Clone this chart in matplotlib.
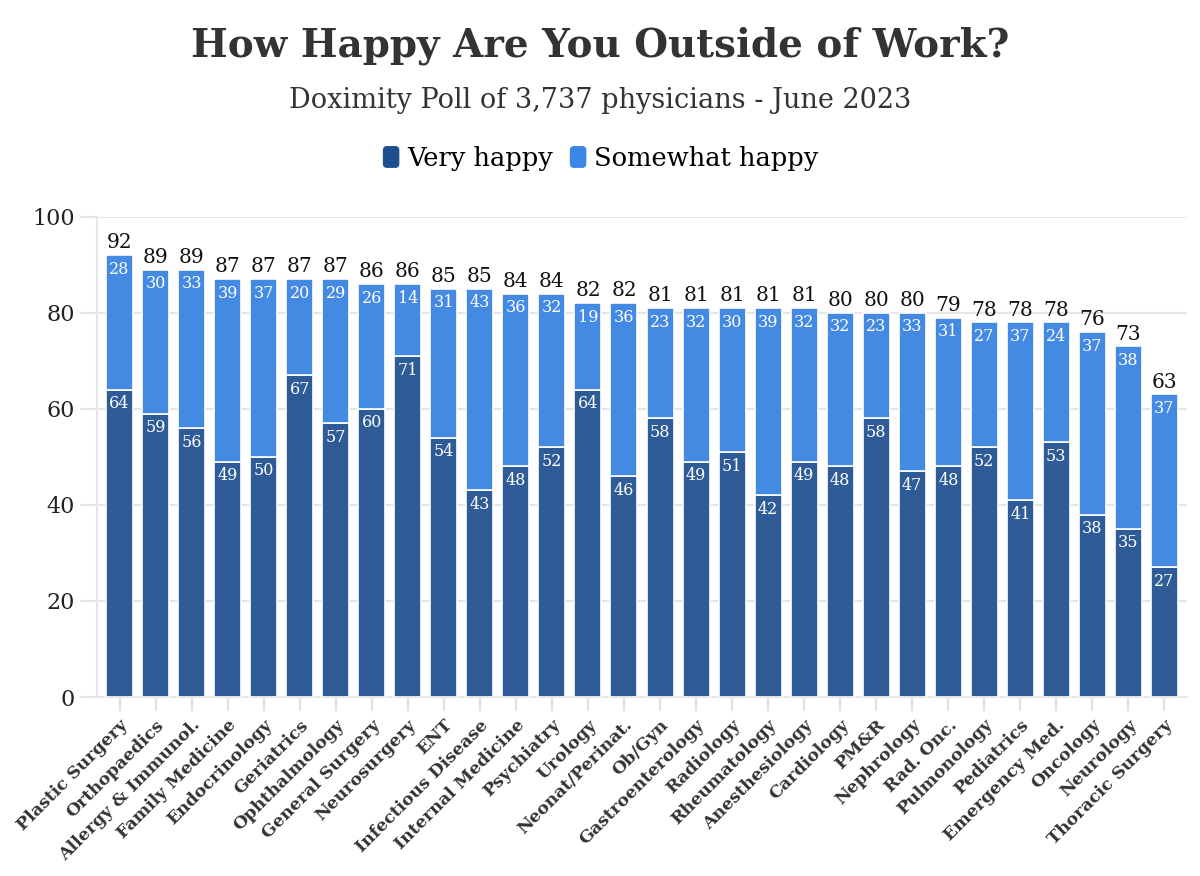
import matplotlib
matplotlib.use("Agg")
import matplotlib.pyplot as plt
import numpy as np
from matplotlib.patches import FancyBboxPatch
from matplotlib.legend_handler import HandlerPatch
from matplotlib.patches import Patch

categories = ["Plastic Surgery", "Orthopaedics", "Allergy & Immunol.", "Family Medicine",
              "Endocrinology", "Geriatrics", "Ophthalmology", "General Surgery", "Neurosurgery",
              "ENT", "Infectious Disease", "Internal Medicine", "Psychiatry", "Urology",
              "Neonat/Perinat.", "Ob/Gyn", "Gastroenterology", "Radiology", "Rheumatology",
              "Anesthesiology", "Cardiology", "PM&R", "Nephrology", "Rad. Onc.", "Pulmonology",
              "Pediatrics", "Emergency Med.", "Oncology", "Neurology", "Thoracic Surgery"]
very_happy = [64, 59, 56, 49, 50, 67, 57, 60, 71, 54, 43, 48, 52, 64, 46, 58, 49, 51, 42, 49,
              48, 58, 47, 48, 52, 41, 53, 38, 35, 27]
somewhat_happy = [28, 30, 33, 39, 37, 20, 29, 26, 14, 31, 43, 36, 32, 19, 36, 23, 32, 30, 39, 32,
                  32, 23, 33, 31, 27, 37, 24, 37, 38, 37]
totals = [92, 89, 89, 87, 87, 87, 87, 86, 86, 85, 85, 84, 84, 82, 82, 81, 81, 81, 81, 81,
          80, 80, 80, 79, 78, 78, 78, 76, 73, 63]
yticks = [0, 20, 40, 60, 80, 100]

DARK = "#2f5b97"
LIGHT = "#448ae3"
TXT = "#333333"
FONT = "DejaVu Serif"

fig = plt.figure(figsize=(12, 8.76), dpi=100)
ax = fig.add_axes([0.081, 0.2043, 0.908, 0.5483])

x = np.arange(len(categories))
vh = np.array(very_happy)
tot = np.array(totals)
ax.bar(x, vh, width=0.75, color=DARK, edgecolor="white", linewidth=1.2, zorder=3)
ax.bar(x, tot - vh, bottom=vh, width=0.75, color=LIGHT, edgecolor="white", linewidth=1.2, zorder=3)

for i in range(len(categories)):
    ax.annotate(str(very_happy[i]), (x[i], vh[i]), xytext=(0, -4), textcoords="offset points",
                ha="center", va="top", color="white", fontsize=11.5, family=FONT, zorder=4)
    ax.annotate(str(somewhat_happy[i]), (x[i], tot[i]), xytext=(0, -4),
                textcoords="offset points", ha="center", va="top", color="white",
                fontsize=11.5, family=FONT, zorder=4)
    ax.annotate(str(totals[i]), (x[i], tot[i]), xytext=(0, 2), textcoords="offset points",
                ha="center", va="bottom", color="#111111", fontsize=14.5, family=FONT, zorder=4)

ax.set_xlim(-0.62, len(categories) - 0.38)
ax.set_ylim(0, 100)
ax.set_yticks(yticks)
ax.set_yticklabels([str(t) for t in yticks], fontsize=16, family=FONT, color="#222222")
ax.grid(axis="y", color="#e6e6e6", linewidth=1.5, zorder=0)
ax.set_xticks(x)
ax.set_xticklabels(categories, rotation=45, ha="right", rotation_mode="anchor",
                   fontsize=12.5, family=FONT, fontweight="bold", color=TXT)
ax.tick_params(axis="x", length=10, color="#e0e0e0", width=1.5, pad=4)
ax.tick_params(axis="y", length=12, color="#e6e6e6", width=1.5, pad=4)
for s in ["top", "right"]:
    ax.spines[s].set_visible(False)
ax.spines["left"].set_color("#e6e6e6")
ax.spines["left"].set_linewidth(1.5)
ax.spines["bottom"].set_color("#e6e6e6")
ax.spines["bottom"].set_linewidth(1.5)

fig.text(0.5, 0.948, "How Happy Are You Outside of Work?", ha="center", va="center",
         fontsize=28, fontweight="bold", family=FONT, color="#333333")
fig.text(0.5, 0.885, "Doximity Poll of 3,737 physicians - June 2023", ha="center", va="center",
         fontsize=19.5, family=FONT, color="#333333")


class RoundHandler(HandlerPatch):
    def create_artists(self, legend, orig_handle, xdescent, ydescent, width, height, fontsize, trans):
        p = FancyBboxPatch((-xdescent + 1, -ydescent + 1), width - 2, height - 2,
                           boxstyle="round,pad=0,rounding_size=3",
                           facecolor=orig_handle.get_facecolor(), edgecolor="none",
                           transform=trans)
        return [p]


handles = [Patch(facecolor="#1f4e8f", label="Very happy"),
           Patch(facecolor="#3a87e8", label="Somewhat happy")]
fig.legend(handles=handles, loc="center", bbox_to_anchor=(0.5, 0.82), ncol=2, frameon=False,
           prop={"family": FONT, "size": 18.5}, handlelength=0.75, handleheight=1.1,
           handletextpad=0.25, columnspacing=0.6,
           handler_map={Patch: RoundHandler()})

fig.savefig("out.png", dpi=100, facecolor="white")
